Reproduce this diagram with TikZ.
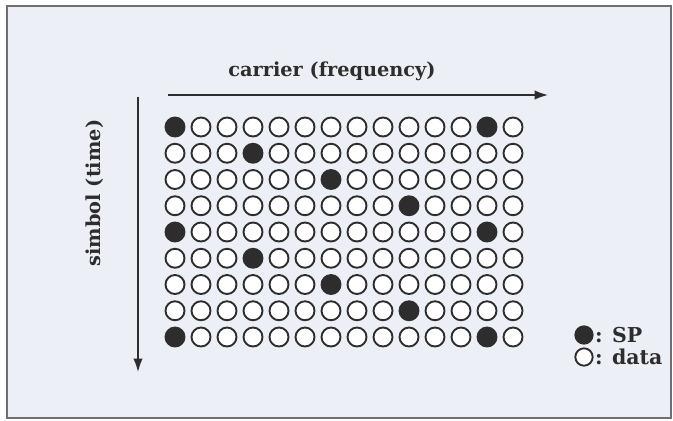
\documentclass[tikz,border=0pt]{standalone}
\usepackage{fontspec}
\setmainfont{DejaVu Serif}
\usetikzlibrary{arrows.meta,positioning}
\definecolor{panelgray}{RGB}{237,239,246}
\definecolor{inkdark}{RGB}{45,45,45}
\definecolor{framegray}{RGB}{110,110,115}

\begin{document}
\begin{tikzpicture}[x=0.03cm,y=-0.03cm,
  label text/.style={font=\bfseries\fontsize{16.5}{19}\selectfont, text=inkdark, inner sep=1pt},
  key text/.style={label text, font=\bfseries\fontsize{17.5}{20}\selectfont},
  cell/.style={circle, draw=inkdark, line width=1.6pt, minimum size=0.57cm, inner sep=0pt, fill=white},
  pilot/.style={cell, fill=inkdark},
  axis/.style={draw=inkdark, line width=1.3pt, -{Latex[length=4mm,width=2.8mm]}}]

\useasboundingbox (0,0) rectangle (673,421);

% ── Panel ────────────────────────────────────────────────────────────────
\draw[framegray, fill=panelgray, line width=1pt] (7,6) rectangle (671,418);

% ── Grid of subcarriers: 9 symbols x 14 carriers ─────────────────────────
% scattered pilot when mod(c-1,12) = 3*mod(r-1,4)
\foreach \r in {1,...,9}{
  \foreach \c in {1,...,14}{
    \pgfmathtruncatemacro{\isp}{(mod(\c-1,12)==3*mod(\r-1,4)) ? 1 : 0}
    \ifnum\isp=1 \def\kind{pilot}\else\def\kind{cell}\fi
    \node[\kind] (c-\r-\c) at ({175+26*(\c-1)},{127+26.25*(\r-1)}) {};
  }
}

% ── Axes ─────────────────────────────────────────────────────────────────
\coordinate (f0) at (168,95);
\coordinate (f1) at (548,95);
\draw[axis] (f0) -- (f1);
\node[label text] (freqlabel) at (332,71) {carrier (frequency)};

\coordinate (t0) at (138,97);
\coordinate (t1) at (138,372);
\draw[axis] (t0) -- (t1);
\node[label text, rotate=90] (timelabel) at (95,193) {simbol (time)};

% ── Legend ───────────────────────────────────────────────────────────────
\node[pilot, minimum size=0.52cm] (keysp) at (584,335) {};
\node[key text, right=0pt of keysp] (keysptext) {: SP};
\node[cell, minimum size=0.52cm] (keydata) at (584,357) {};
\node[key text, right=0pt of keydata] (keydatatext) {: data};

\end{tikzpicture}
\end{document}
